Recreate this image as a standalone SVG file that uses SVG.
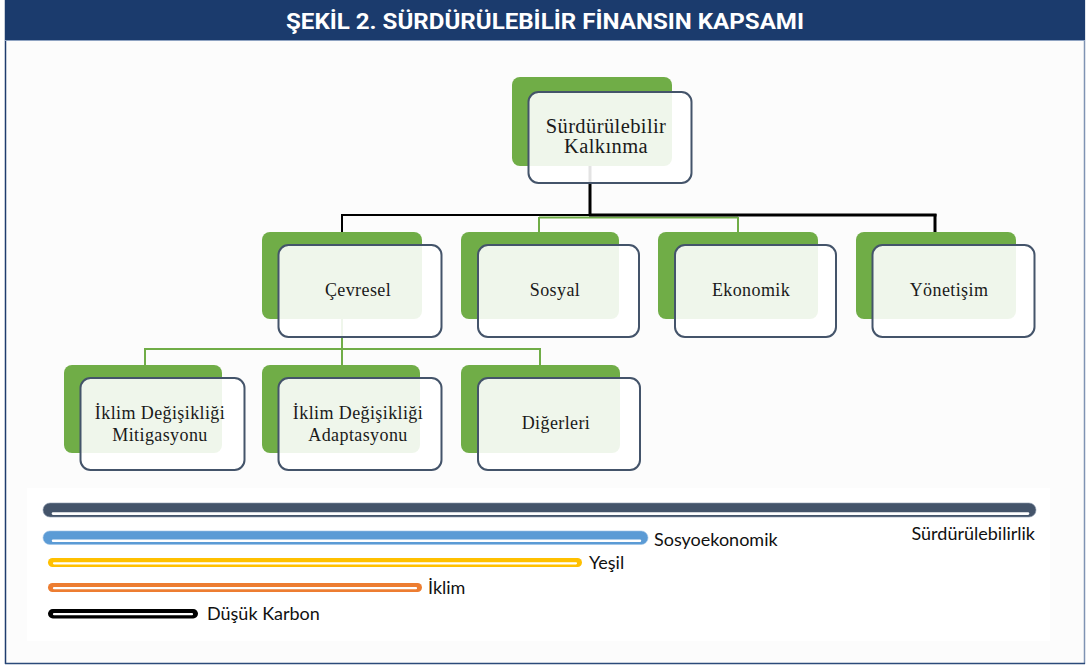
<svg xmlns="http://www.w3.org/2000/svg" width="1090" height="668" viewBox="0 0 1090 668">
  <defs>
    <style>
      .back { fill: #70AD47; }
      .front { fill: #ffffff; fill-opacity: 0.89; stroke: #44546A; stroke-width: 2; }
      .lbl { font-family: "Liberation Serif", "Times New Roman", serif; font-size: 18px; fill: #1a1a1a; text-anchor: middle; letter-spacing: 0.4px; }
      .root-lbl { font-size: 20.5px; }
      .blk { stroke: #000; fill: none; }
      .grn { stroke: #70AD47; fill: none; stroke-width: 2; }
      .key { font-family: "Lato", "Liberation Sans", sans-serif; font-size: 18px; fill: #111; }
      .inner { stroke: #fff; stroke-linecap: round; fill: none; }
    </style>
  </defs>

  <!-- page background and frame -->
  <rect x="0" y="0" width="1090" height="668" fill="#ffffff"/>
  <rect x="5" y="0" width="1080" height="664" fill="#fcfcfc"/>
  <line x1="5.5" y1="0" x2="5.5" y2="664" stroke="#1F3C6E" stroke-width="1.5"/>
  <line x1="1084.5" y1="0" x2="1084.5" y2="664" stroke="#7F93B3" stroke-width="1.5"/>
  <line x1="5" y1="663.5" x2="1085" y2="663.5" stroke="#2B4A7A" stroke-width="1.5"/>

  <!-- title bar -->
  <g id="title">
    <rect x="5" y="0" width="1080" height="40" fill="#1B3B6D"/>
    <line x1="5" y1="40.5" x2="1085" y2="40.5" stroke="#8FA3C2" stroke-width="1.2"/>
    <text x="545" y="29" font-family="Roboto, 'Liberation Sans', sans-serif" font-weight="bold" font-size="22" fill="#ffffff" text-anchor="middle" textLength="518" lengthAdjust="spacingAndGlyphs">ŞEKİL 2. SÜRDÜRÜLEBİLİR FİNANSIN KAPSAMI</text>
  </g>

  <!-- connectors -->
  <g id="connectors">
    <line class="blk" x1="590" y1="166" x2="590" y2="216" stroke-width="3"/>
    <line class="grn" x1="539" y1="217.5" x2="738" y2="217.5" stroke-width="1.5"/>
    <line class="blk" x1="341" y1="215" x2="591" y2="215" stroke-width="2"/>
    <line class="blk" x1="589" y1="215" x2="936.5" y2="215" stroke-width="3"/>
    <line class="blk" x1="342" y1="214" x2="342" y2="232" stroke-width="2"/>
    <line class="grn" x1="539" y1="217" x2="539" y2="232"/>
    <line class="grn" x1="738" y1="217" x2="738" y2="232"/>
    <line class="blk" x1="935" y1="214" x2="935" y2="232" stroke-width="3"/>

    <line class="grn" x1="342" y1="319" x2="342" y2="350"/>
    <line class="grn" x1="144" y1="349" x2="541" y2="349"/>
    <line class="grn" x1="145" y1="348" x2="145" y2="365"/>
    <line class="grn" x1="540" y1="348" x2="540" y2="365"/>
    <line class="grn" x1="342" y1="348" x2="342" y2="365"/>
  </g>

  <!-- root -->
  <g id="node-kalkinma">
    <rect class="back" x="512" y="77" width="160" height="89" rx="8"/>
    <rect class="front" x="528.5" y="92" width="163" height="91" rx="10"/>
    <text class="lbl root-lbl" x="606" y="133">Sürdürülebilir</text>
    <text class="lbl root-lbl" x="606" y="153">Kalkınma</text>
  </g>

  <!-- second level -->
  <g id="node-cevresel">
    <rect class="back" x="262" y="232" width="160" height="87" rx="8"/>
    <rect class="front" x="278.5" y="245" width="163" height="92" rx="10"/>
    <text class="lbl" x="358" y="296">Çevresel</text>
  </g>
  <g id="node-sosyal">
    <rect class="back" x="461" y="232" width="158" height="87" rx="8"/>
    <rect class="front" x="478" y="245" width="161" height="92" rx="10"/>
    <text class="lbl" x="555" y="296">Sosyal</text>
  </g>
  <g id="node-ekonomik">
    <rect class="back" x="658" y="232" width="160" height="87" rx="8"/>
    <rect class="front" x="675" y="245" width="161" height="92" rx="10"/>
    <text class="lbl" x="751" y="296">Ekonomik</text>
  </g>
  <g id="node-yonetisim">
    <rect class="back" x="856" y="232" width="160" height="87" rx="8"/>
    <rect class="front" x="872.5" y="245" width="162" height="92" rx="10"/>
    <text class="lbl" x="949" y="296">Yönetişim</text>
  </g>

  <!-- third level -->
  <g id="node-mitigasyon">
    <rect class="back" x="64" y="365" width="158" height="88" rx="8"/>
    <rect class="front" x="80.5" y="378" width="164" height="92" rx="10"/>
    <text class="lbl" x="160" y="419">İklim Değişikliği</text>
    <text class="lbl" x="160" y="441">Mitigasyonu</text>
  </g>
  <g id="node-adaptasyon">
    <rect class="back" x="262" y="365" width="158" height="88" rx="8"/>
    <rect class="front" x="278.5" y="378" width="163" height="92" rx="10"/>
    <text class="lbl" x="358" y="419">İklim Değişikliği</text>
    <text class="lbl" x="358" y="441">Adaptasyonu</text>
  </g>
  <g id="node-digerleri">
    <rect class="back" x="461" y="365" width="159" height="88" rx="8"/>
    <rect class="front" x="478" y="378" width="162" height="92" rx="10"/>
    <text class="lbl" x="556" y="429">Diğerleri</text>
  </g>

  <!-- scope bars -->
  <g id="legend">
    <rect x="27" y="488" width="1023" height="153" fill="#ffffff"/>

    <rect x="43" y="503" width="993" height="14" rx="7" fill="#44546A" stroke="#8C99AC" stroke-width="0.6"/>
    <line class="inner" x1="53" y1="513.6" x2="1028" y2="513.6" stroke-width="2.6"/>
    <text class="key" x="1035" y="540" text-anchor="end">Sürdürülebilirlik</text>

    <rect x="43" y="531" width="605" height="13.5" rx="6.75" fill="#5B9BD5" stroke="#9DC3E6" stroke-width="0.6"/>
    <line class="inner" x1="53" y1="540.8" x2="640" y2="540.8" stroke-width="2.4"/>
    <text class="key" x="654" y="546">Sosyoekonomik</text>

    <rect x="48" y="558" width="534" height="9" rx="4.5" fill="#FFC000"/>
    <line class="inner" x1="54" y1="563.3" x2="576" y2="563.3" stroke-width="2.2"/>
    <text class="key" x="589" y="569">Yeşil</text>

    <rect x="48" y="583" width="374" height="9" rx="4.5" fill="#ED7D31"/>
    <line class="inner" x1="54" y1="588.2" x2="416" y2="588.2" stroke-width="2.2"/>
    <text class="key" x="428" y="594">İklim</text>

    <rect x="48" y="609" width="150" height="9.5" rx="4.75" fill="#000000"/>
    <line class="inner" x1="54" y1="614.2" x2="192" y2="614.2" stroke-width="2.2"/>
    <text class="key" x="207" y="620">Düşük Karbon</text>
  </g>
</svg>
